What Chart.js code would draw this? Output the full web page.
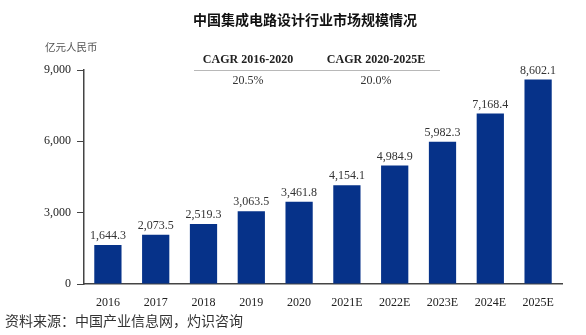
<!DOCTYPE html>
<html>
<head>
<meta charset="utf-8">
<script src="https://cdn.jsdelivr.net/npm/chart.js@4.4.1/dist/chart.umd.min.js"></script>
<style>
  html, body { margin: 0; padding: 0; background: #fff; }
  #wrap { width: 586px; height: 335px; }
</style>
</head>
<body>
<div id="wrap"><canvas id="chart"></canvas></div>
<script>
/* Market size data, 100 million RMB. */
const years = ["2016", "2017", "2018", "2019", "2020", "2021E", "2022E", "2023E", "2024E", "2025E"]
const marketSize = [1644.3, 2073.5, 2519.3, 3063.5, 3461.8, 4154.1, 4984.9, 5982.3, 7168.4, 8602.1]
const yTicks = [0, 3000, 6000, 9000]

/* Growth rates shown above the bars. */
const cagrLabels = ["CAGR 2016-2020", "CAGR 2020-2025E"]
const cagrValues = ["20.5%", "20.0%"]

const titleText = "中国集成电路设计行业市场规模情况"
const unitText = "亿元人民币"
const sourceText = "资料来源：中国产业信息网，灼识咨询"

const serif = "'Liberation Serif', 'Times New Roman', serif"
const cjk = "'Noto Sans CJK SC', sans-serif"

const fmt = v => v.toLocaleString("en-US", { minimumFractionDigits: 1, maximumFractionDigits: 1 })

/* Value labels on top of each bar. */
const barLabels = {
  id: "barLabels",
  afterDatasetsDraw(chart) {
    const ctx = chart.ctx
    const meta = chart.getDatasetMeta(0)
    ctx.save()
    ctx.font = "12px " + serif
    ctx.fillStyle = "#333"
    ctx.textAlign = "center"
    ctx.textBaseline = "bottom"
    meta.data.forEach((bar, i) => {
      ctx.fillText(fmt(marketSize[i]), bar.x, bar.y - 3)
    })
    ctx.restore()
  }
}

/* Title, unit, CAGR box and source line. */
const extras = {
  id: "extras",
  afterDraw(chart) {
    const ctx = chart.ctx
    ctx.save()
    ctx.textBaseline = "middle"

    ctx.fillStyle = "#111"
    ctx.textAlign = "center"
    ctx.font = "bold 14px " + cjk
    ctx.fillText(titleText, 305, 20)

    ctx.fillStyle = "#555"
    ctx.textAlign = "left"
    ctx.font = "10.5px " + cjk
    ctx.fillText(unitText, 45, 47)

    const cagrX = [248, 376]
    ctx.textAlign = "center"
    ctx.fillStyle = "#222"
    ctx.font = "bold 12px " + serif
    cagrLabels.forEach((t, i) => ctx.fillText(t, cagrX[i], 60))
    ctx.font = "12px " + serif
    ctx.fillStyle = "#333"
    cagrValues.forEach((t, i) => ctx.fillText(t, cagrX[i], 81))

    ctx.strokeStyle = "#b8b8b8"
    ctx.lineWidth = 1
    ctx.beginPath()
    ctx.moveTo(194, 70.5)
    ctx.lineTo(440, 70.5)
    ctx.stroke()

    ctx.fillStyle = "#333"
    ctx.textAlign = "left"
    ctx.font = "14px " + cjk
    ctx.fillText(sourceText, 5, 321)
    ctx.restore()
  }
}

const ctx = document.getElementById("chart").getContext("2d")
const chart = new Chart(ctx, {
  type: "bar",
  data: {
    labels: years,
    datasets: [{
      data: marketSize,
      backgroundColor: "#063289",
      borderWidth: 0,
      barPercentage: 0.57,
      categoryPercentage: 1.0
    }]
  },
  options: {
    responsive: true,
    maintainAspectRatio: false,
    animation: false,
    layout: { padding: { left: 0, right: 24, top: 70, bottom: 0 } },
    plugins: {
      legend: { display: false },
      tooltip: { enabled: false }
    },
    scales: {
      x: {
        grid: { display: false },
        border: { display: true, color: "#444", width: 1.5 },
        ticks: { color: "#222", font: { family: serif, size: 12 }, padding: 4 },
        afterFit: scale => { scale.height = 51 }
      },
      y: {
        min: 0,
        max: 9000,
        afterBuildTicks: scale => { scale.ticks = yTicks.map(v => ({ value: v })) },
        grid: { drawOnChartArea: false, drawTicks: true, tickLength: 7, color: "#444", lineWidth: 1 },
        border: { display: true, color: "#444", width: 1.5 },
        ticks: {
          color: "#222",
          font: { family: serif, size: 12 },
          padding: 6,
          callback: v => v.toLocaleString("en-US")
        },
        afterFit: scale => { scale.width = 84 }
      }
    }
  },
  plugins: [barLabels, extras]
})
</script>
</body>
</html>
